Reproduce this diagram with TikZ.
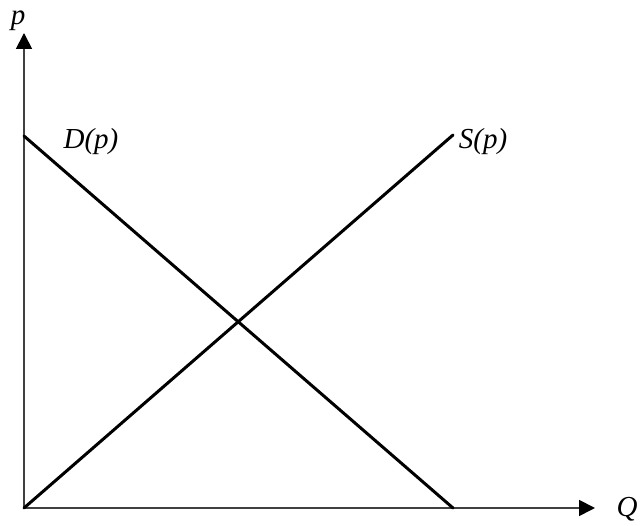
\documentclass[tikz,border=0pt]{standalone}
\usepackage{fontspec}
\setmainfont{Liberation Serif}
\usetikzlibrary{arrows.meta}

\begin{document}
\begin{tikzpicture}[x=1pt, y=1pt, >={Triangle[length=16pt,width=16pt,color=black]}]
    \useasboundingbox (0,0) rectangle (641,526);
    \tikzset{axis/.style={line width=1.8pt, draw=black!75},
             curve/.style={line width=3pt, line cap=round},
             lbl/.style={font=\fontsize{29}{33}\selectfont\itshape, inner sep=0pt}}

    % --- Axes ---
    \coordinate (O) at (24,18);
    \coordinate (ytip) at (24,493);
    \coordinate (xtip) at (595,18);
    \draw[axis, ->] (O) -- (ytip);
    \draw[axis, ->] (O) -- (xtip);
    \node[lbl] (plabel) at (18,505) {p};
    \node[lbl] (qlabel) at (627,17) {Q};

    % --- Demand and supply ---
    \coordinate (dtop) at (24,390);
    \coordinate (dbot) at (453,18);
    \coordinate (stop) at (453,391);
    \draw[curve] (dtop) -- (dbot);
    \draw[curve] (O) -- (stop);
    \node[lbl] (dlabel) at (91,384) {D(p)};
    \node[lbl] (slabel) at (483,384) {S(p)};

\end{tikzpicture}
\end{document}
